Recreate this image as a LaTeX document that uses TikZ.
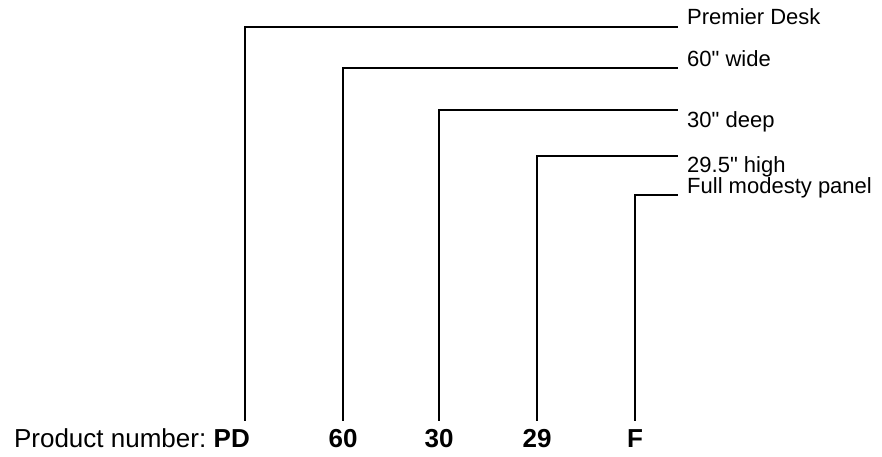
\documentclass[tikz,border=0pt]{standalone}
\usepackage{fontspec}
\setmainfont{Liberation Sans}
\begin{document}
\begin{tikzpicture}[x=1pt,y=-1pt,
  lead/.style={line width=2.4pt, line cap=butt, line join=miter, black},
  lbl/.style={anchor=base west, inner sep=0pt, font=\fontsize{22}{26}\selectfont},
  codebox/.style={anchor=base, inner xsep=0pt, inner ysep=7pt, text height=19pt, text depth=0pt, font=\fontsize{26}{31}\selectfont\bfseries},
  plain/.style={anchor=base east, inner sep=0pt, font=\fontsize{26}{31}\selectfont}]
\useasboundingbox (0,0) rectangle (882,457);
% codes
\node[codebox, anchor=base east] (pd) at (250,447) {PD};
\node[plain] (pn) at ([xshift=-7pt]pd.base west) {Product number:};
\node[codebox] (c60) at (343,447) {60};
\node[codebox] (c30) at (439,447) {30};
\node[codebox] (c29) at (537,447) {29};
\node[codebox] (cf) at (635,447) {F};
% labels
\node[lbl] (lpd) at (687,25) {Premier Desk};
\node[lbl] (l60) at (687,67) {60\textquotedbl{} wide};
\node[lbl] (l30) at (687,128) {30\textquotedbl{} deep};
\node[lbl] (l29) at (687,172) {29.5\textquotedbl{} high};
\node[lbl] (lf) at (687,193) {Full modesty panel};
% line ends
\coordinate (epd) at (678,27);
\coordinate (e60) at (678,68);
\coordinate (e30) at (678,110);
\coordinate (e29) at (678,156);
\coordinate (ef) at (678,195);
% connectors
\draw[lead] ([xshift=-5pt]pd.north east) |- (epd);
\draw[lead] (c60.north) |- (e60);
\draw[lead] (c30.north) |- (e30);
\draw[lead] (c29.north) |- (e29);
\draw[lead] (cf.north) |- (ef);
\end{tikzpicture}
\end{document}
